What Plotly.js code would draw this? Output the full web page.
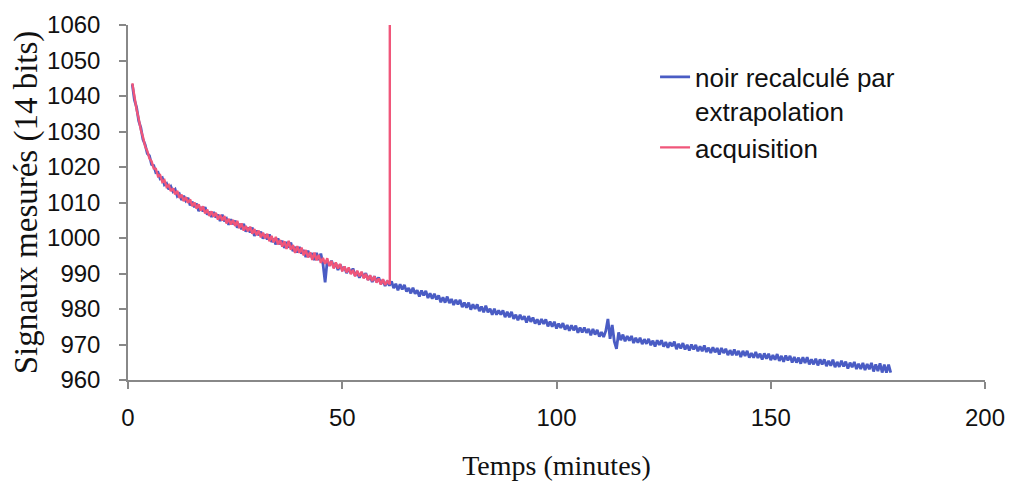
<!DOCTYPE html>
<html>
<head>
<meta charset="utf-8">
<script src="https://cdn.plot.ly/plotly-3.0.1.min.js"></script>
<style>
  html, body { margin: 0; padding: 0; background: #fff; }
  #chart { width: 1013px; height: 484px; }
</style>
</head>
<body>
<div id="chart"></div>
<script>
// Sampling: one reading every half minute, starting at t = 1 min
const startTime = 1;
const stepTime = 0.5;

// "noir recalculé par extrapolation" (t = 1 .. 178 min, every 0.5 min)
const blueValues = [
  1043.3, 1038.9, 1036.8, 1033.0, 1031.0, 1027.7, 1026.3, 1023.8, 1023.2, 1020.7,
  1020.4, 1018.4, 1018.5, 1016.7, 1017.0, 1015.0, 1015.4, 1013.7, 1014.5, 1013.1,
  1013.7, 1011.8, 1012.4, 1010.7, 1011.9, 1010.5, 1011.3, 1009.2, 1010.2, 1008.7,
  1009.7, 1007.6, 1008.7, 1007.5, 1008.7, 1006.6, 1007.4, 1005.9, 1007.3, 1005.8,
  1006.6, 1004.8, 1006.6, 1004.7, 1005.4, 1003.7, 1005.3, 1003.9, 1004.9, 1002.9,
  1004.0, 1002.5, 1004.0, 1001.8, 1002.9, 1001.6, 1002.9, 1000.6, 1002.1, 1000.8,
  1001.8, 999.8, 1001.0, 999.6, 1001.0, 998.9, 999.8, 998.2, 999.9, 998.2,
  999.2, 997.2, 998.9, 997.3, 998.7, 996.3, 997.5, 995.9, 997.5, 995.6,
  996.6, 994.6, 996.4, 994.7, 995.7, 993.8, 995.8, 993.8, 995.6, 992.7,
  987.5, 993.6, 992.2, 993.6, 991.8, 992.8, 991.0, 992.5, 991.1, 991.9,
  990.1, 991.4, 990.1, 991.4, 989.4, 990.4, 988.8, 990.3, 989.0, 990.1,
  988.2, 989.3, 987.6, 989.2, 987.7, 988.9, 987.1, 988.2, 986.5, 987.9,
  986.6, 987.8, 985.9, 987.1, 985.3, 987.0, 985.5, 986.8, 984.9, 985.9,
  984.4, 986.0, 984.3, 985.3, 983.5, 985.2, 983.8, 985.1, 983.1, 984.4,
  982.9, 984.3, 982.7, 983.8, 981.9, 983.3, 981.8, 983.5, 981.7, 982.8,
  981.1, 982.6, 981.3, 982.6, 980.5, 981.8, 980.4, 981.8, 979.8, 981.3,
  980.0, 981.3, 979.4, 980.7, 979.1, 980.9, 979.1, 980.1, 978.4, 980.1,
  978.4, 979.6, 978.4, 979.6, 977.7, 979.2, 977.7, 979.2, 977.2, 978.4,
  976.8, 978.4, 977.0, 978.0, 976.2, 978.0, 976.4, 977.6, 975.9, 977.1,
  975.6, 977.2, 975.8, 977.1, 975.1, 976.5, 975.0, 976.4, 974.5, 975.9,
  974.7, 976.0, 974.2, 975.5, 973.9, 975.4, 974.0, 975.3, 973.3, 974.8,
  973.4, 974.8, 973.3, 974.4, 972.6, 974.4, 972.8, 974.1, 972.2, 973.5,
  972.1, 973.8, 977.2, 971.6, 975.5, 970.8, 968.8, 973.4, 971.2, 972.8,
  970.9, 972.4, 971.1, 972.4, 970.4, 971.9, 970.5, 971.9, 970.1, 971.5,
  970.2, 971.6, 969.8, 971.1, 969.4, 971.2, 969.9, 971.2, 969.4, 970.7,
  969.1, 970.6, 969.5, 970.8, 968.7, 970.2, 968.9, 970.4, 968.6, 969.9,
  968.3, 970.0, 968.6, 969.9, 968.1, 969.5, 968.1, 969.7, 967.9, 969.1,
  967.6, 969.2, 967.8, 969.0, 967.2, 969.0, 967.6, 968.8, 967.0, 968.4,
  967.0, 968.6, 967.0, 968.2, 966.5, 968.2, 966.8, 968.2, 966.3, 967.6,
  966.3, 967.9, 966.2, 967.4, 965.8, 967.5, 966.0, 967.4, 965.6, 967.0,
  965.7, 967.3, 965.4, 966.8, 965.1, 966.9, 965.5, 966.8, 964.9, 966.5,
  964.9, 966.3, 964.6, 966.4, 964.8, 966.4, 964.4, 965.8, 964.4, 966.0,
  964.1, 965.8, 964.4, 965.8, 963.9, 965.4, 964.0, 965.7, 963.6, 965.1,
  963.7, 965.4, 963.8, 965.2, 963.2, 964.9, 963.6, 965.1, 963.1, 964.6,
  963.1, 964.8, 962.8, 964.5, 963.0, 964.8, 962.4, 964.4, 962.5, 964.7,
  962.1, 964.3, 962.1, 964.3, 962.1
];

// "acquisition" (t = 1 .. 61 min, every 0.5 min)
const redValues = [
  1043.6, 1039.6, 1036.2, 1033.6, 1030.4, 1028.4, 1025.8, 1024.5, 1022.4, 1021.6,
  1019.6, 1019.5, 1017.4, 1017.7, 1015.8, 1016.3, 1014.4, 1014.9, 1013.2, 1014.0,
  1012.3, 1013.3, 1011.3, 1012.2, 1010.4, 1011.5, 1009.9, 1010.9, 1009.0, 1010.0,
  1008.3, 1009.5, 1007.7, 1008.9, 1006.9, 1008.0, 1006.2, 1007.5, 1006.0, 1007.1,
  1005.2, 1006.5, 1004.9, 1006.2, 1004.1, 1005.4, 1003.8, 1005.1, 1003.4, 1004.8,
  1002.8, 1004.1, 1002.1, 1003.4, 1001.9, 1003.2, 1001.2, 1002.5, 1000.8, 1002.1,
  1000.2, 1001.5, 999.9, 1001.2, 999.1, 1000.6, 998.8, 1000.3, 998.2, 999.4,
  997.6, 999.1, 996.9, 999.2, 996.7, 998.0, 995.8, 997.7, 995.8, 997.3,
  995.1, 996.6, 994.5, 996.0, 993.8, 995.9, 993.7, 995.2, 993.0, 994.4,
  992.7, 994.3, 992.1, 993.5, 991.4, 993.1, 991.4, 992.7, 990.6, 992.0,
  990.3, 991.7, 989.8, 991.0, 989.2, 990.8, 989.2, 990.5, 988.6, 989.9,
  988.1, 989.5, 987.9, 989.2, 987.4, 988.6, 986.9, 988.4, 986.8, 987.8,
  987.0
];
// end of acquisition: jump at t = 61.1 min
const redSpikeTime = [61.1, 61.1];
const redSpikeValues = [987.0, 1060];

const xTicks = [0, 50, 100, 150, 200];
const yTicks = [960, 970, 980, 990, 1000, 1010, 1020, 1030, 1040, 1050, 1060];

const blueTime = blueValues.map((_, i) => startTime + i * stepTime);
const redTime = redValues.map((_, i) => startTime + i * stepTime).concat(redSpikeTime);
const redAll = redValues.concat(redSpikeValues);

const traces = [
  {
    x: blueTime, y: blueValues, type: 'scatter', mode: 'lines',
    name: 'noir recalculé par<br>extrapolation',
    line: { color: '#4a5cc4', width: 2.8 }
  },
  {
    x: redTime, y: redAll, type: 'scatter', mode: 'lines',
    name: 'acquisition',
    line: { color: '#f0567a', width: 2.4 }
  }
];

const axisFont = { family: 'Liberation Sans, Arial, sans-serif', size: 24, color: '#111' };

const layout = {
  width: 1013, height: 484,
  paper_bgcolor: '#fff', plot_bgcolor: '#fff',
  margin: { l: 128, r: 28, t: 25, b: 104 },
  showlegend: true,
  legend: {
    x: 0.615, y: 0.92, xanchor: 'left', yanchor: 'top',
    font: { family: 'Liberation Sans, Arial, sans-serif', size: 26, color: '#111' },
    bgcolor: 'rgba(0,0,0,0)', valign: 'top', tracegroupgap: 4
  },
  xaxis: {
    range: [0, 200], tickvals: xTicks, ticktext: xTicks.map(String),
    showgrid: false, zeroline: false, showline: true,
    linecolor: '#888', linewidth: 1.5,
    ticks: 'outside', ticklen: 7, tickcolor: '#888', tickwidth: 1.5,
    tickfont: axisFont, ticklabelstandoff: 8,
    title: { text: 'Temps (minutes)', font: { family: 'Liberation Serif, Times New Roman, serif', size: 28, color: '#111' }, standoff: 26 }
  },
  yaxis: {
    range: [960, 1060], tickvals: yTicks, ticktext: yTicks.map(String),
    showgrid: false, zeroline: false, showline: true,
    linecolor: '#888', linewidth: 1.5,
    ticks: 'outside', ticklen: 7, tickcolor: '#888', tickwidth: 1.5,
    tickfont: axisFont, ticklabelstandoff: 14,
    title: { text: 'Signaux mesurés (14 bits)', font: { family: 'Liberation Serif, Times New Roman, serif', size: 33, color: '#111' }, standoff: 0 }
  }
};

Plotly.newPlot('chart', traces, layout, { displayModeBar: false, responsive: false });
</script>
</body>
</html>
